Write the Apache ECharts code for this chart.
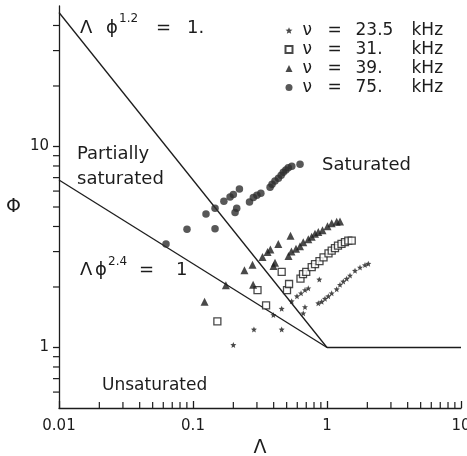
<!DOCTYPE html>
<html>
<head>
<meta charset="utf-8">
<script src="https://cdn.jsdelivr.net/npm/echarts@6/dist/echarts.min.js"></script>
<style>
  html, body { margin: 0; padding: 0; background: #fff; overflow: hidden; }
  #chart { width: 467px; height: 456px; }
</style>
</head>
<body>
<div id="chart"></div>
<script>
// Saturation regimes of the parameter Φ against Λ, four driving frequencies.
const FONT = '"DejaVu Sans", "Liberation Sans", sans-serif';
const INK = '#1c1c1c';

const freqLabels = ['23.5', '31.', '39.', '75.'];

// ν = 23.5 kHz
const lam235 = [0.200, 0.285, 0.459, 0.398, 0.459, 0.545, 0.597, 0.640, 0.685, 0.725, 0.685, 0.665, 0.876,
                0.861, 0.913, 0.966, 1.023, 1.084, 1.181, 1.250, 1.323, 1.403, 1.485, 1.618, 1.763, 1.921, 2.033];
const phi235 = [1.03, 1.23, 1.23, 1.45, 1.56, 1.70, 1.80, 1.86, 1.93, 1.97, 1.59, 1.48, 2.18,
                1.66, 1.69, 1.75, 1.80, 1.86, 1.95, 2.05, 2.13, 2.20, 2.28, 2.41, 2.50, 2.57, 2.61];

// ν = 31 kHz
const lam31 = [0.152, 0.303, 0.351, 0.459, 0.503, 0.521, 0.634, 0.662, 0.700, 0.769, 0.814, 0.879, 0.942,
               1.026, 1.084, 1.147, 1.208, 1.283, 1.362, 1.442, 1.529];
const phi31 = [1.35, 1.93, 1.62, 2.38, 1.93, 2.07, 2.20, 2.32, 2.38, 2.51, 2.60, 2.69, 2.81,
               2.94, 3.03, 3.12, 3.21, 3.28, 3.34, 3.40, 3.40];

// ν = 39 kHz
const lam39 = [0.122, 0.176, 0.242, 0.278, 0.281, 0.330, 0.360, 0.378, 0.433, 0.534, 0.399, 0.409, 0.516,
               0.543, 0.587, 0.629, 0.665, 0.725, 0.769, 0.814, 0.861, 0.926, 1.009, 1.084, 1.181, 1.250];
const phi39 = [1.69, 2.04, 2.42, 2.58, 2.05, 2.82, 2.99, 3.07, 3.27, 3.60, 2.54, 2.64, 2.85,
               3.00, 3.10, 3.19, 3.34, 3.46, 3.56, 3.68, 3.75, 3.83, 4.01, 4.15, 4.22, 4.23];

// ν = 75 kHz
const lam75 = [0.0629, 0.0902, 0.125, 0.146, 0.146, 0.170, 0.189, 0.200, 0.222, 0.212, 0.206, 0.264, 0.282,
               0.300, 0.321, 0.376, 0.389, 0.409, 0.434, 0.455, 0.472, 0.493, 0.514, 0.546, 0.629];
const phi75 = [3.27, 3.88, 4.62, 4.93, 3.90, 5.34, 5.61, 5.77, 6.15, 4.93, 4.69, 5.30, 5.58,
               5.72, 5.86, 6.27, 6.49, 6.74, 6.96, 7.20, 7.45, 7.65, 7.84, 7.98, 8.17];

// regime boundaries: Λ ϕ^1.2 = 1, Λ ϕ^2.4 = 1, and ϕ = 1 beyond Λ = 1
const boundarySat = [[0.01, 46.4], [1, 1]];
const boundaryUnsat = [[0.01, 6.81], [1, 1]];
const boundaryFlat = [[1, 1], [10, 1]];

// axis ranges and minor tick values
const xRange = [0.01, 10];
const yRange = [0.5, 50];
const xMinorTicks = [0.02, 0.03, 0.04, 0.05, 0.06, 0.07, 0.08, 0.09,
                     0.2, 0.3, 0.4, 0.5, 0.6, 0.7, 0.8, 0.9,
                     2, 3, 4, 5, 6, 7, 8, 9];
const yMinorTicks = [0.6, 0.7, 0.8, 0.9, 2, 3, 4, 5, 6, 7, 8, 9, 20, 30, 40];

const zip = (xs, ys) => xs.map((v, i) => [v, ys[i]]);
const seriesNames = freqLabels.map(f => 'ν = ' + f + ' kHz');

const STAR = 'path://M0,-10 L2.6,-3.6 9.5,-3.1 4.2,1.4 5.9,8.1 0,4.4 -5.9,8.1 -4.2,1.4 -9.5,-3.1 -2.6,-3.6Z';

function tok(extra) {
  return Object.assign({ fontSize: 17, fontFamily: FONT, color: INK, align: 'left' }, extra);
}

function label(x, y, text, size) {
  return {
    type: 'text', x: x, y: y, silent: true,
    style: { text: text, fill: INK, fontSize: size, fontFamily: FONT, align: 'left', verticalAlign: 'middle' }
  };
}

function boundary(data) {
  return {
    type: 'line', data: data, symbol: 'none', silent: true, animation: false,
    lineStyle: { color: INK, width: 1.3 }, z: 1
  };
}

const annotations = [
  label(80, 28, 'Λ', 18),
  label(106, 28, 'ϕ', 18),
  label(119, 19, '1.2', 12),
  label(156, 28, '=', 18),
  label(187, 28, '1.', 18),

  label(80, 270, 'Λ', 18),
  label(95, 270, 'ϕ', 18),
  label(108, 262, '2.4', 12),
  label(139, 270, '=', 18),
  label(176, 270, '1', 18),

  label(77, 154, 'Partially', 18),
  label(77, 179, 'saturated', 18),
  label(322, 165, 'Saturated', 18),
  label(102, 386, 'Unsaturated', 17)
];

const chart = echarts.init(document.getElementById('chart'), null, { renderer: 'canvas', width: 467, height: 456 });

chart.setOption({
  animation: false,
  backgroundColor: '#fff',
  grid: { left: 59, right: 6, top: 6, bottom: 48, containLabel: false, outerBoundsMode: 'none' },
  xAxis: {
    type: 'log', logBase: 10, min: xRange[0], max: xRange[1],
    name: 'Λ', nameLocation: 'middle', nameGap: 27,
    nameTextStyle: { fontSize: 19, fontFamily: FONT, color: INK },
    axisLine: { show: true, lineStyle: { color: INK, width: 1.3 } },
    axisTick: { show: true, inside: true, length: 7, lineStyle: { color: INK, width: 1.3 } },
    axisLabel: { fontSize: 15, fontFamily: FONT, color: INK, margin: 11 },
    splitLine: { show: false }
  },
  yAxis: {
    type: 'log', logBase: 10, min: yRange[0], max: yRange[1],
    name: 'Φ', nameLocation: 'middle', nameGap: 38, nameRotate: 0,
    nameTextStyle: { fontSize: 19, fontFamily: FONT, color: INK },
    axisLine: { show: true, lineStyle: { color: INK, width: 1.3 } },
    axisTick: { show: true, inside: false, length: 6, lineStyle: { color: INK, width: 1.3 } },
    axisLabel: { fontSize: 15, fontFamily: FONT, color: INK, margin: 10, showMinLabel: false, showMaxLabel: false },
    splitLine: { show: false }
  },
  legend: {
    data: seriesNames,
    orient: 'vertical',
    left: 284.5, top: 22,
    itemWidth: 7, itemHeight: 7, itemGap: 2,
    padding: 0,
    selectedMode: false,
    formatter: function (name) {
      const f = name.replace('ν = ', '').replace(' kHz', '');
      return '{s| }{a|ν}{b|=}{c|' + f + '}{d|kHz}';
    },
    textStyle: {
      fontSize: 17, fontFamily: FONT, color: INK,
      rich: {
        s: tok({ width: 5 }),
        a: tok({ width: 25 }),
        b: tok({ width: 28 }),
        c: tok({ width: 56 }),
        d: tok({})
      }
    }
  },
  series: [
    {
      name: seriesNames[0], type: 'scatter', symbol: STAR, symbolSize: 6,
      itemStyle: { color: INK }, data: zip(lam235, phi235), z: 3
    },
    {
      name: seriesNames[1], type: 'scatter', symbol: 'rect', symbolSize: 7,
      itemStyle: { color: '#fff', borderColor: INK, borderWidth: 1.3 }, data: zip(lam31, phi31), z: 3
    },
    {
      name: seriesNames[2], type: 'scatter', symbol: 'triangle', symbolSize: 8,
      itemStyle: { color: INK }, data: zip(lam39, phi39), z: 3
    },
    {
      name: seriesNames[3], type: 'scatter', symbol: 'circle', symbolSize: 7.5,
      itemStyle: { color: '#2e2e2e' }, data: zip(lam75, phi75), z: 3
    },
    boundary(boundarySat),
    boundary(boundaryUnsat),
    boundary(boundaryFlat)
  ],
  graphic: annotations
});

// Minor ticks: positions come from the axes' own scales.
// Along Λ they point into the plot, along Φ they point outward.
const tickLines = [];
const yBase = chart.convertToPixel({ yAxisIndex: 0 }, yRange[0]);
const xBase = chart.convertToPixel({ xAxisIndex: 0 }, xRange[0]);
xMinorTicks.forEach(function (v) {
  const x = chart.convertToPixel({ xAxisIndex: 0 }, v);
  tickLines.push({
    type: 'line', silent: true, z: 50,
    shape: { x1: x, y1: yBase, x2: x, y2: yBase - 6 },
    style: { stroke: INK, lineWidth: 1.2 }
  });
});
yMinorTicks.forEach(function (v) {
  const y = chart.convertToPixel({ yAxisIndex: 0 }, v);
  tickLines.push({
    type: 'line', silent: true, z: 50,
    shape: { x1: xBase, y1: y, x2: xBase - 6, y2: y },
    style: { stroke: INK, lineWidth: 1.2 }
  });
});
chart.setOption({ graphic: annotations.concat(tickLines) });
</script>
</body>
</html>
